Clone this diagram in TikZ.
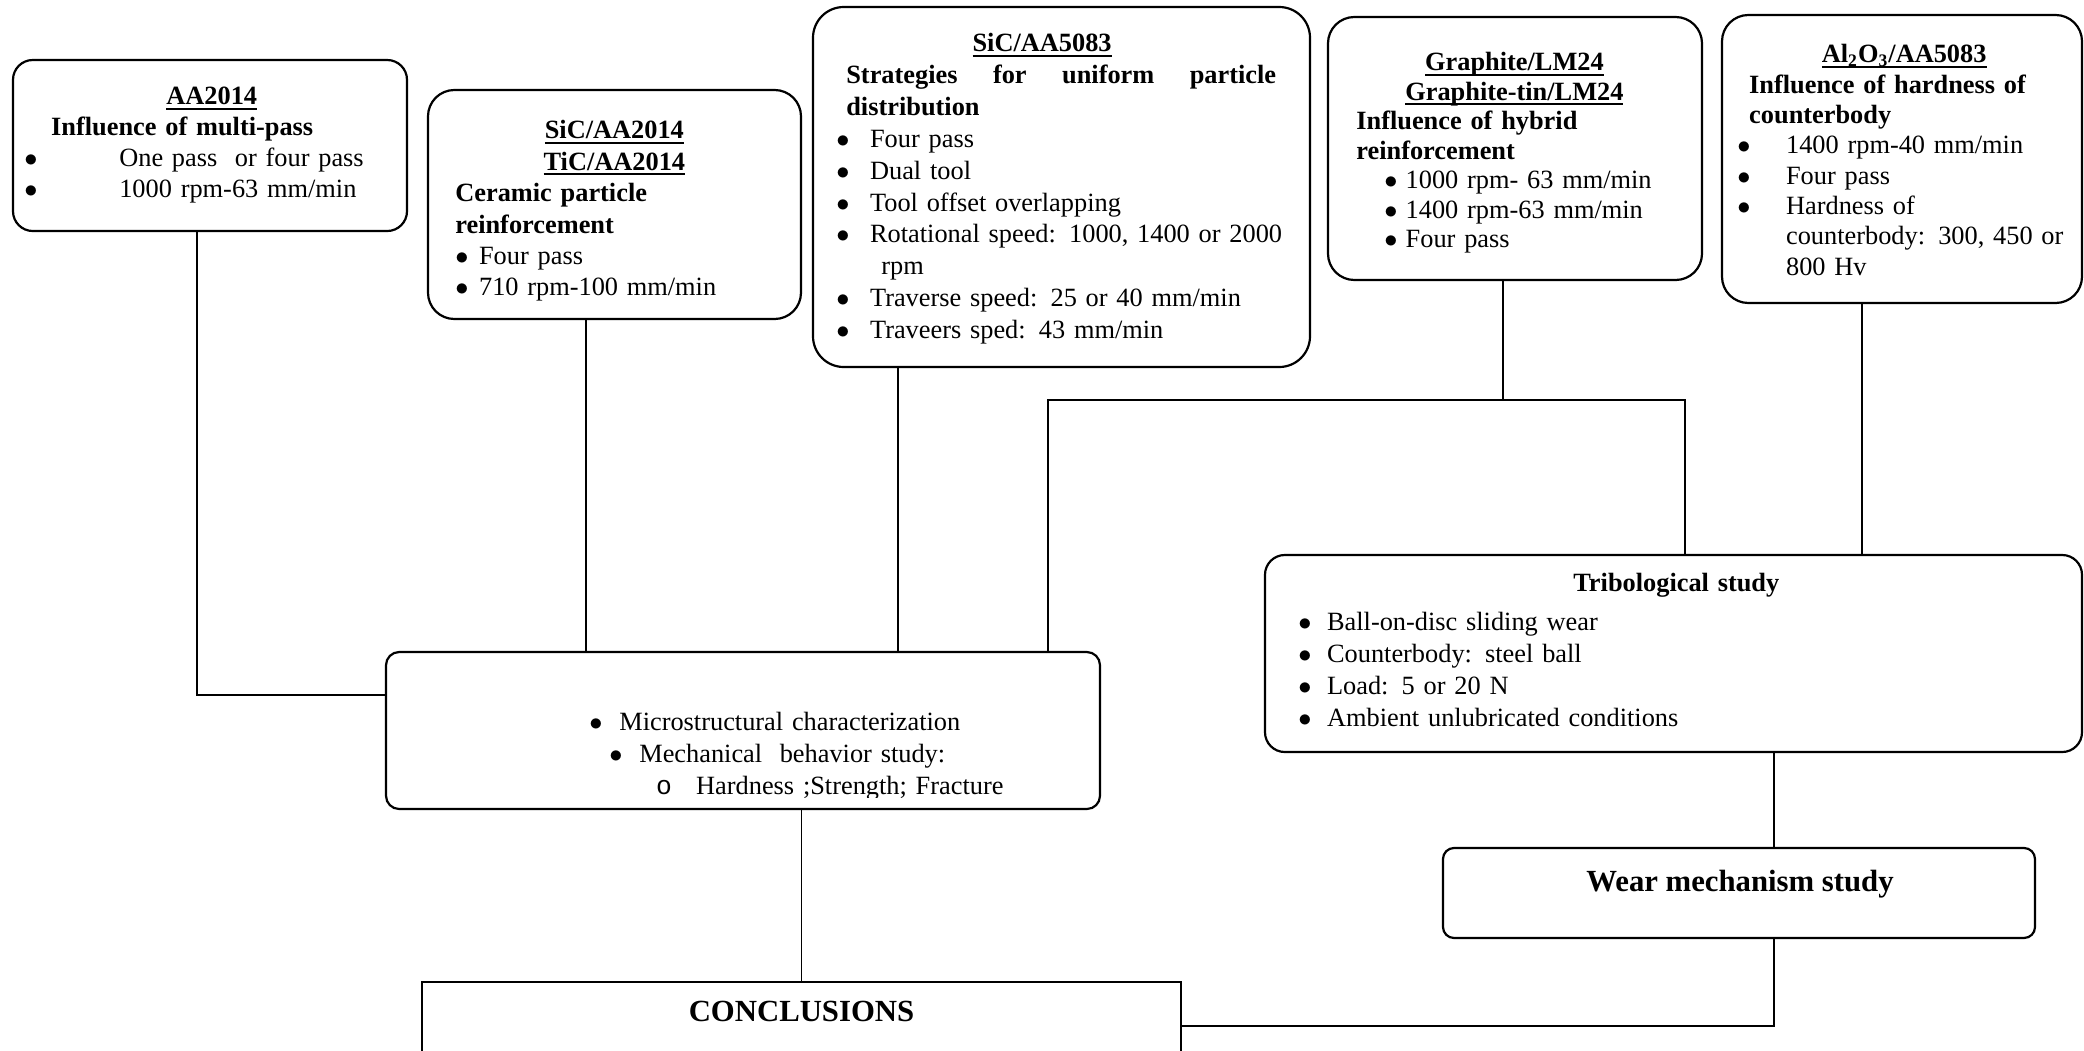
\documentclass[tikz,border=0pt]{standalone}
\usepackage{fontspec}
\setmainfont{Liberation Serif}
\newfontfamily\bulletmono{Liberation Mono}
\usepackage{tikz}
\usetikzlibrary{calc}
\usetikzlibrary{fit}
\tikzset{panel/.style={rectangle,draw=black,line width=1pt,inner sep=0pt}}
\tikzset{txt/.style={anchor=base west,inner sep=0pt,align=left,font=\fontsize{12}{14}\selectfont}}
\tikzset{head/.style={anchor=base,inner sep=0pt,font=\fontsize{14}{16}\selectfont\bfseries}}
\tikzset{link/.style={draw=black,line width=0.7pt}}
\newcommand{\bul}[1]{\makebox[#1][l]{$\bullet$}}
\newcommand{\ul}[1]{\setbox0=\hbox{#1}\rlap{\rule[-2.2pt]{\wd0}{0.8pt}}\box0}
\newcommand{\hd}[1]{\makebox[\linewidth]{\ul{\textbf{#1}}}}

\begin{document}
\begin{tikzpicture}[x=0.016cm,y=-0.016cm]
\useasboundingbox (0,0) rectangle (2084,1050);
\clip (0,0) rectangle (2084,1050);

\node[panel,rounded corners=9pt,fit={(13,60) (407,231)}] (aa) {};
\node[panel,rounded corners=12pt,fit={(428,90) (801,319)}] (s14) {};
\node[panel,rounded corners=14pt,fit={(813,7) (1310,367)}] (s58) {};
\node[panel,rounded corners=12pt,fit={(1328,17) (1702,280)}] (gr) {};
\node[panel,rounded corners=12pt,fit={(1722,15) (2082,303)}] (al) {};
\node[panel,rounded corners=6pt,fit={(386,652) (1100,809)}] (mic) {};
\node[panel,rounded corners=9pt,fit={(1265,555) (2082,752)}] (tri) {};
\node[panel,rounded corners=5pt,fit={(1443,848) (2035,938)}] (wear) {};
\node[panel,fit={(422,982) (1181,1080)}] (conc) {};

\node[txt,text width=6cm] (aat) at ($(aa.north west)+(12,46)$) {\hd{AA2014}\\
\hspace*{0.43cm}\textbf{Influence of multi-pass}\\
\bul{1.52cm}One pass\ \ or four pass\\
\bul{1.52cm}1000 rpm-63 mm/min};

\node[txt,text width=5.09cm,font=\fontsize{12}{14.3}\selectfont] (s14t) at ($(s14.north west)+(28,50)$) {\hd{SiC/AA2014}\\
\hd{TiC/AA2014}\\
\textbf{Ceramic particle}\\
\textbf{reinforcement}\\
\bul{0.38cm}Four pass\\
\bul{0.38cm}710 rpm-100 mm/min};

\node[txt,text width=7.2cm,font=\fontsize{12}{14.5}\selectfont] (s58t) at ($(s58.north west)+(24,46)$) {\hspace*{2.18cm}\ul{\textbf{SiC/AA5083}}\\
\hspace*{0.16cm}\hbox to 6.88cm{\textbf{Strategies}\hfill\textbf{for}\hfill\textbf{uniform}\hfill\textbf{particle}}\\
\hspace*{0.16cm}\textbf{distribution}\\
\bul{0.54cm}Four pass\\
\bul{0.54cm}Dual tool\\
\bul{0.54cm}Tool offset overlapping\\
\bul{0.54cm}Rotational speed: 1000, 1400 or 2000\\
\hspace*{0.72cm}rpm\\
\bul{0.54cm}Traverse speed: 25 or 40 mm/min\\
\bul{0.54cm}Traveers sped: 43 mm/min};

\node[txt,text width=5.06cm,font=\fontsize{12}{13.4}\selectfont] (grt) at ($(gr.north west)+(29,55)$) {\hd{Graphite/LM24}\\
\hd{Graphite-tin/LM24}\\
\textbf{Influence of hybrid}\\
\textbf{reinforcement}\\
\hspace*{0.45cm}\bul{0.34cm}1000 rpm- 63 mm/min\\
\hspace*{0.45cm}\bul{0.34cm}1400 rpm-63 mm/min\\
\hspace*{0.45cm}\bul{0.34cm}Four pass};

\node[txt,text width=5.34cm,font=\fontsize{12}{13.8}\selectfont] (alt) at ($(al.north west)+(16,49)$) {\hd{Al\textsubscript{2}O\textsubscript{3}/AA5083}\\
\hspace*{0.19cm}\textbf{Influence of hardness of}\\
\hspace*{0.19cm}\textbf{counterbody}\\
\bul{0.78cm}1400 rpm-40 mm/min\\
\bul{0.78cm}Four pass\\
\bul{0.78cm}Hardness of\\
\hspace*{0.78cm}counterbody: 300, 450 or\\
\hspace*{0.78cm}800 Hv};

\begin{scope}
\clip (mic.north west) rectangle ($(mic.south east)+(0,-13)$);
\node[txt,text width=7.68cm,font=\fontsize{12}{14.5}\selectfont] (mict) at ($(mic.north west)+(204,80)$) {\bul{0.48cm}Microstructural characterization\\
\hspace*{0.32cm}\bul{0.48cm}Mechanical\ \ behavior study:\\
\hspace*{1.07cm}\makebox[0.64cm][l]{\bulletmono o}Hardness ;Strength; Fracture};
\end{scope}

\node[txt,text width=12.1cm,font=\fontsize{12}{14.6}\selectfont] (trit) at ($(tri.north west)+(34,38)$) {\makebox[\linewidth]{\textbf{Tribological study}}\\[3pt]
\bul{0.46cm}Ball-on-disc sliding wear\\
\bul{0.46cm}Counterbody: steel ball\\
\bul{0.46cm}Load: 5 or 20 N\\
\bul{0.46cm}Ambient unlubricated conditions};

\node[head] (weart) at ($(wear.center)+(1,-2)$) {Wear mechanism study};
\node[head] (conct) at ($(conc.north)+(0,41)$) {CONCLUSIONS};

\coordinate (aad) at ($(aa.south)+(-13,0)$);
\draw[link] (aad) |- ($(mic.west)+(0,-35.5)$);
\foreach \b/\dx in {s14/-28.5,s58/-163.5} {
	\coordinate (\b d) at ($(\b.south)+(\dx,0)$);
	\draw[link] (\b d) -- (\b d |- mic.north);
}
\draw[link] ($(gr.south)+(-12,0)$) -- ++(0,119) coordinate (grd);
\coordinate (jl) at ($(mic.north)+(305,0)$);
\coordinate (jr) at ($(tri.north)+(11.5,0)$);
\draw[link] (jl) |- (jr |- grd) -- (jr);
\coordinate (ald) at ($(al.south)+(-40,0)$);
\draw[link] (ald) -- (ald |- tri.north);
\coordinate (wd) at ($(wear.north)+(35,0)$);
\draw[link] (wd |- tri.south) -- (wd);
\draw[link] ($(wear.south)+(35,0)$) |- ($(conc.north east)+(0,45)$);
\draw[link] (conc.north) -- (conc.north |- mic.south);
\end{tikzpicture}
\end{document}
